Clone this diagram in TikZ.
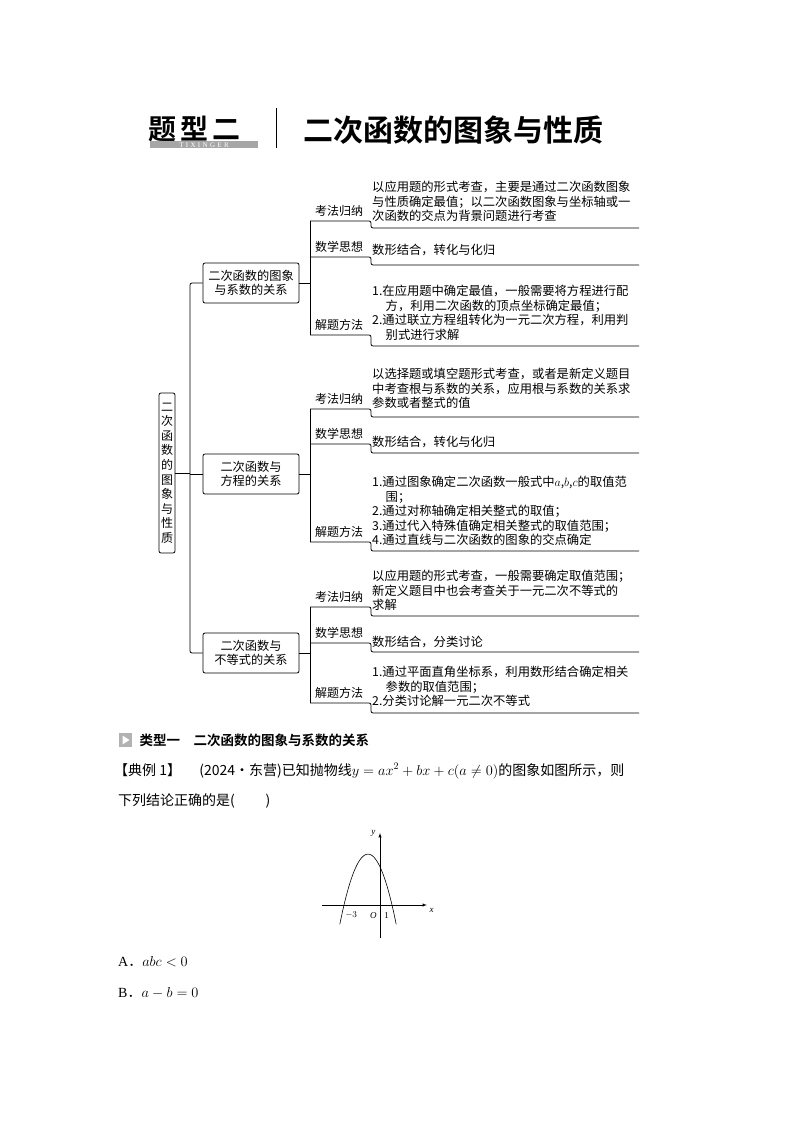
\documentclass[tikz,border=0pt]{standalone}
\usepackage{fontspec}
\setmainfont{Liberation Serif}
\newfontfamily\cjk{Noto Sans CJK SC}
\newfontfamily\cjkb{Noto Sans CJK SC}[BoldFont={* Bold}]
\usetikzlibrary{positioning}

\tikzset{
  box/.style={draw, rounded corners=2pt, thick, align=center, inner sep=3pt},
  lbl/.style={anchor=west, font=\cjk\fontsize{12}{13}\selectfont, inner sep=1pt},
  txt/.style={anchor=north west, align=left, inner sep=0pt, font=\cjk\fontsize{12.3}{14.5}\selectfont},
  ln/.style={line width=0.8pt}
}
\newcommand{\twig}[4]{% y_a, y_b, name, label
  \coordinate (#3a) at (310,#1);
  \coordinate (#3b) at (371,#1);
  \coordinate (#3c) at (371,#2);
  \coordinate (#3d) at (639,#2);
  \draw[ln, rounded corners=2pt] (#3a) -- (#3b) -- (#3c) -- (#3d);
  \node[lbl] at (314,#1-10) {#4};
}

\begin{document}
\begin{tikzpicture}[x=1pt,y=-1pt]
	\useasboundingbox (0,0) rectangle (794,1123);
	% title
	\node[anchor=west, font=\cjkb\bfseries\fontsize{28}{28}\selectfont, inner sep=0pt] (tt) at (148,129) {题\hspace{4pt}型\hspace{4pt}二};
	\fill[gray!70] (150,141) rectangle (258,148);
	\node[font=\fontsize{7}{7}\selectfont, white, inner sep=0pt] (tx) at (204,144.8) {T\,\,I\,\,X\,\,I\,\,N\,\,G\,\,E\,\,R};
	\draw[line width=0.8pt] (276,108) -- (276,148);
	\node[anchor=west, font=\cjkb\bfseries\fontsize{30}{30}\selectfont, inner sep=0pt] (head) at (303,130) {二次函数的图象与性质};
	% mind map
	\node[box, text width=12pt, inner sep=2pt, font=\cjk\fontsize{12}{14.6}\selectfont, minimum height=160pt] (root) at (167,473) {二\\次\\函\\数\\的\\图\\象\\与\\性\\质};
	\node[box, minimum width=96pt, minimum height=40pt, font=\cjk\fontsize{12.2}{14.5}\selectfont] (b1) at (251,283) {二次函数的图象\\与系数的关系};
	\node[box, minimum width=96pt, minimum height=40pt, font=\cjk\fontsize{12.2}{14.5}\selectfont] (b2) at (251,474) {二次函数与\\方程的关系};
	\node[box, minimum width=96pt, minimum height=40pt, font=\cjk\fontsize{12.2}{14.5}\selectfont] (b3) at (251,653) {二次函数与\\不等式的关系};
	\coordinate (t1) at (190,283);
	\coordinate (t3) at (190,653);
	\draw[ln, rounded corners=2pt] (b1.west) -- (t1) -- (t3) -- (b3.west);
	\draw[ln] (root.east) -- (root.east -| t1);
	\draw[ln] (b2.west) -- (b2.west -| t1);
	% group one
	\twig{221}{228}{k1}{考法归纳}
	\twig{257}{265}{s1}{数学思想}
	\twig{335}{346}{j1}{解题方法}
	\draw[ln, rounded corners=2pt] (k1a) -- (j1a);
	\draw[ln] (b1.east) -- (b1.east -| k1a);
	\node[txt] (k1t) at (372,181) {以应用题的形式考查，主要是通过二次函数图象\\与性质确定最值；以二次函数图象与坐标轴或一\\次函数的交点为背景问题进行考查};
	\node[txt] (s1t) at (372,244) {数形结合，转化与化归};
	\node[txt] (j1t) at (372,285) {1.在应用题中确定最值，一般需要将方程进行配\\\hspace*{1.1em}方，利用二次函数的顶点坐标确定最值；\\2.通过联立方程组转化为一元二次方程，利用判\\\hspace*{1.1em}别式进行求解};
	% group two
	\twig{409}{417}{k2}{考法归纳}
	\twig{444}{453}{s2}{数学思想}
	\twig{542}{551}{j2}{解题方法}
	\draw[ln] (k2a) -- (j2a);
	\draw[ln] (b2.east) -- (b2.east -| k2a);
	\node[txt] (k2t) at (372,368) {以选择题或填空题形式考查，或者是新定义题目\\中考查根与系数的关系，应用根与系数的关系求\\参数或者整式的值};
	\node[txt] (s2t) at (372,436) {数形结合，转化与化归};
	\node[txt] (j2t) at (372,476) {1.通过图象确定二次函数一般式中$a$,$b$,$c$的取值范\\\hspace*{1.1em}围；\\2.通过对称轴确定相关整式的取值；\\3.通过代入特殊值确定相关整式的取值范围；\\4.通过直线与二次函数的图象的交点确定};
	% group three
	\twig{607}{616}{k3}{考法归纳}
	\twig{643}{652}{s3}{数学思想}
	\twig{703}{713}{j3}{解题方法}
	\draw[ln] (k3a) -- (j3a);
	\draw[ln] (b3.east) -- (b3.east -| k3a);
	\node[txt] (k3t) at (372,570) {以应用题的形式考查，一般需要确定取值范围；\\新定义题目中也会考查关于一元二次不等式的\\求解};
	\node[txt] (s3t) at (372,636) {数形结合，分类讨论};
	\node[txt] (j3t) at (372,666) {1.通过平面直角坐标系，利用数形结合确定相关\\\hspace*{1.1em}参数的取值范围；\\2.分类讨论解一元二次不等式};
	% example
	\fill[gray!60] (119,733) rectangle (132,747);
	\fill[white] (122.5,735.5) -- (129.5,740) -- (122.5,744.5) -- cycle;
	\node[anchor=west, font=\cjkb\bfseries\fontsize{13.5}{13.5}\selectfont] (typ) at (136,740) {类型一\hspace{1em}二次函数的图象与系数的关系};
	\node[anchor=west, font=\cjk\fontsize{14}{14}\selectfont, inner sep=0pt] (ex) at (114,771) {【典例 1】\hspace{1.3em}(2024·东营)已知抛物线$y=ax^2+bx+c(a\neq0)$的图象如图所示，则};
	\node[anchor=west, font=\cjk\fontsize{14}{14}\selectfont, inner sep=0pt] (ex2) at (118,801) {下列结论正确的是(\hspace{2.2em})};
	% graph
	\begin{scope}[shift={(380,905)}, x=12pt, y=12pt]
		\coordinate (O) at (0,0);
		\draw[-latex, line width=0.5pt] (-4.8,0) -- (3.9,0) node[below right=-1pt, font=\itshape\small] (xl) {x};
		\draw[-latex, line width=0.5pt] (0,-2.75) -- (0,6) node[left=1pt, font=\itshape\small] (yl) {y};
		\draw[line width=0.6pt, domain=-3.35:1.35, samples=60, smooth] plot (\x, {-1.06*(\x+3)*(\x-1)});
		\node[font=\small] at (-2.4,-0.85) {$-3$};
		\node[font=\small\itshape] at (-0.55,-0.85) {O};
		\node[font=\small] at (0.55,-0.85) {1};
	\end{scope}
	\node[anchor=west, font=\fontsize{14}{14}\selectfont, inner sep=0pt] (oa) at (118,962) {A{\cjk．}$abc<0$};
	\node[anchor=west, font=\fontsize{14}{14}\selectfont, inner sep=0pt] (ob) at (118,993) {B{\cjk．}$a-b=0$};
\end{tikzpicture}
\end{document}
